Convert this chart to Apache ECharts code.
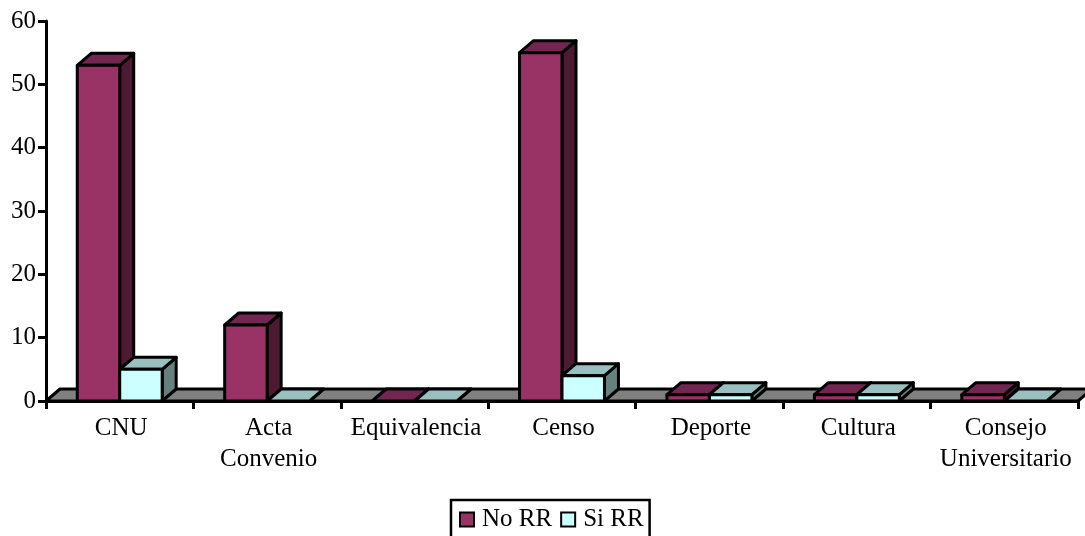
<!DOCTYPE html>
<html><head><meta charset="utf-8">
<style>html,body{margin:0;padding:0;background:#fff;overflow:hidden}#c{width:1085px;height:536px}</style>
<script src="https://cdn.jsdelivr.net/npm/echarts@6/dist/echarts.min.js"></script>
</head><body><div id="c"></div>
<script>
const categories = ['CNU','Acta\nConvenio','Equivalencia','Censo','Deporte','Cultura','Consejo\nUniversitario'];
const noRR = [53,12,0,55,1,1,1];
const siRR = [5,0,0,4,1,1,0];
const yTicks = {min:0,max:60,interval:10};
const FONT = '"Liberation Serif","Times New Roman",serif';
const DX = 14, DY = 12, BAR_FRAC = 0.288, LW = 3;
const palette = {
  no:{front:'#993366',top:'#732650',side:'#4d1a33'},
  si:{front:'#ccffff',top:'#99bfbf',side:'#668080'},
  floor:'#808080'
};
function barItem(colors, slot){
  return function(params, api){
    const idx = api.value(0), v = api.value(1);
    const base = api.coord([idx,0]), top = api.coord([idx,v]);
    const band = api.size([1,0])[0];
    const w = band*BAR_FRAC;
    const x0 = base[0] + slot*w;
    const x1 = x0 + w, yB = base[1], yT = top[1];
    const st = (fill)=>({fill, stroke:'#000', lineWidth:LW, lineJoin:'round'});
    const kids = [
      {type:'polygon',shape:{points:[[x1,yT],[x1+DX,yT-DY],[x1+DX,yB-DY],[x1,yB]]},style:st(colors.side)},
      {type:'polygon',shape:{points:[[x0,yT],[x0+DX,yT-DY],[x1+DX,yT-DY],[x1,yT]]},style:st(colors.top)}
    ];
    if(v>0) kids.push({type:'rect',shape:{x:x0,y:yT,width:w,height:yB-yT},style:st(colors.front)});
    return {type:'group',children:kids};
  };
}
function floorItem(params, api){
  const a = api.coord([0,0]);
  const band = api.size([1,0])[0];
  const x0 = a[0]-band/2, y0 = a[1], x1 = x0+band*categories.length;
  return {type:'polygon',shape:{points:[[x0,y0],[x0+DX,y0-DY],[x1+DX,y0-DY],[x1,y0]]},
    style:{fill:palette.floor,stroke:'#000',lineWidth:LW,lineJoin:'round'}};
}
const chart = echarts.init(document.getElementById('c'),null,{renderer:'canvas'});
const enc = {x:0,y:1};
chart.setOption({
  animation:false,
  backgroundColor:'#fff',
  textStyle:{fontFamily:FONT},
  grid:{left:46,right:7,top:21,bottom:135,containLabel:false},
  legend:{
    left:451,top:500,orient:'horizontal',padding:[7,6,20,8],itemGap:8,itemWidth:14,itemHeight:14,
    borderColor:'#000',borderWidth:2.5,backgroundColor:'#fff',
    textStyle:{fontFamily:FONT,fontSize:25,color:'#000',padding:[0,0,0,3]},
    data:[{name:'No RR',icon:'rect'},{name:'Si RR',icon:'rect'}]
  },
  xAxis:{type:'category',data:categories,boundaryGap:true,
    axisLine:{onZero:false,lineStyle:{color:'#000',width:3}},
    axisTick:{show:true,alignWithLabel:false,length:8,lineStyle:{color:'#000',width:3}},
    axisLabel:{color:'#000',fontFamily:FONT,fontSize:25,margin:12,lineHeight:31,interval:0,hideOverlap:false,padding:[0,0,0,3]}
  },
  yAxis:{type:'value',min:yTicks.min,max:yTicks.max,interval:yTicks.interval,
    axisLine:{show:true,lineStyle:{color:'#000',width:3}},
    axisTick:{show:true,length:8,lineStyle:{color:'#000',width:3}},
    splitLine:{show:false},
    axisLabel:{color:'#000',fontFamily:FONT,fontSize:25,margin:10}
  },
  series:[
    {type:'custom',name:'floor',silent:true,clip:false,z:1,encode:enc,data:[[0,0]],renderItem:floorItem},
    {type:'custom',name:'No RR',clip:false,z:2,encode:enc,
      data:noRR.map((v,i)=>[i,v]),renderItem:barItem(palette.no,-1),
      itemStyle:{color:palette.no.front,borderColor:'#000',borderWidth:2.5}},
    {type:'custom',name:'Si RR',clip:false,z:3,encode:enc,
      data:siRR.map((v,i)=>[i,v]),renderItem:barItem(palette.si,0),
      itemStyle:{color:palette.si.front,borderColor:'#000',borderWidth:2.5}}
  ]
});
</script></body></html>
